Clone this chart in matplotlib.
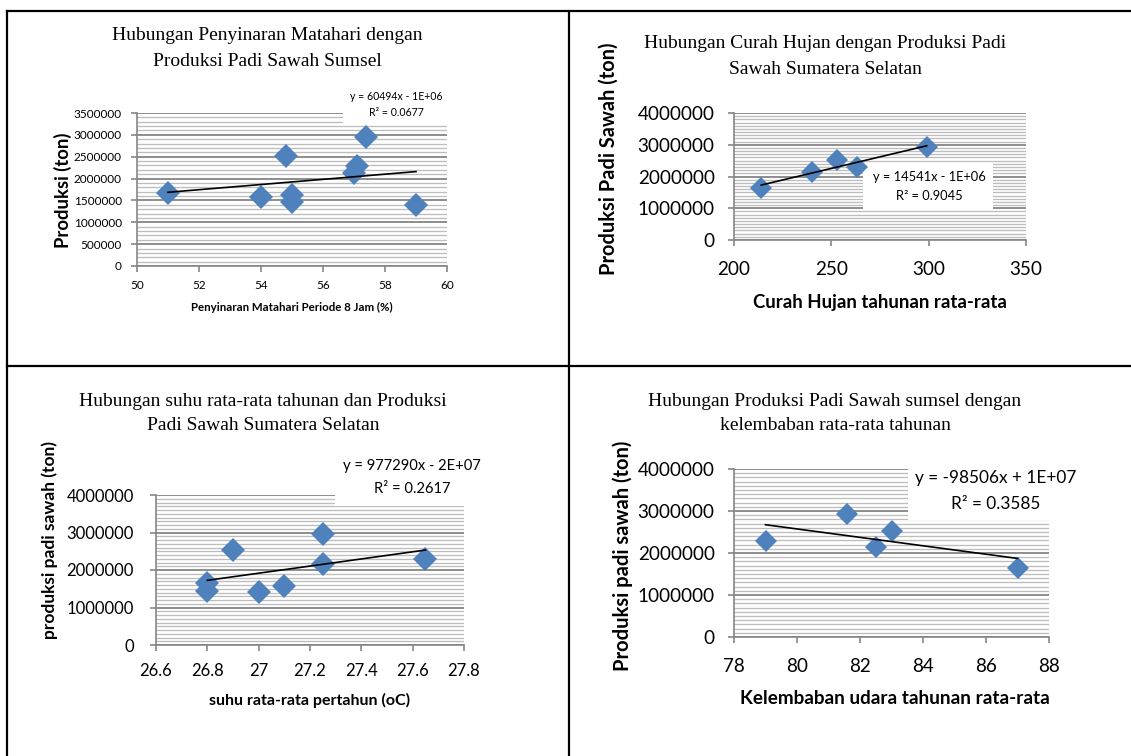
import numpy as np
import matplotlib
matplotlib.use("Agg")
import matplotlib.pyplot as plt
from matplotlib.patches import Rectangle
from matplotlib.lines import Line2D
from matplotlib.ticker import MultipleLocator, FuncFormatter

W, H, DPI = 1131, 756, 100

# ---------------- data ----------------
sun_x = [51.0, 54.0, 54.8, 55.0, 55.0, 57.0, 57.1, 57.4, 59.0]
sun_y = [1670000, 1580000, 2520000, 1620000, 1460000, 2130000, 2290000, 2950000, 1400000]

rain_x = [214, 240, 253, 263, 299]
rain_y = [1650000, 2140000, 2520000, 2300000, 2940000]

temp_x = [26.8, 26.8, 26.9, 27.0, 27.1, 27.25, 27.25, 27.65]
temp_y = [1660000, 1440000, 2540000, 1410000, 1570000, 2960000, 2160000, 2290000]

hum_x = [79.0, 81.6, 82.5, 83.0, 87.0]
hum_y = [2290000, 2940000, 2140000, 2530000, 1650000]

titles = [
    ["Hubungan Penyinaran Matahari dengan", "Produksi Padi Sawah Sumsel"],
    ["Hubungan Curah Hujan dengan Produksi Padi", "Sawah Sumatera Selatan"],
    ["Hubungan suhu rata-rata tahunan dan Produksi", "Padi Sawah Sumatera Selatan"],
    ["Hubungan Produksi Padi Sawah sumsel dengan", "kelembaban rata-rata tahunan"],
]
ylabels = ["Produksi (ton)", "Produksi Padi Sawah (ton)",
           "produksi padi sawah (ton)", "Produksi padi sawah (ton)"]
xlabels = ["Penyinaran Matahari Periode 8 Jam (%)", "Curah Hujan tahunan rata-rata",
           "suhu rata-rata pertahun (oC)", "Kelembaban udara tahunan rata-rata"]
equations = [
    ["y = 60494x - 1E+06", "R² = 0.0677"],
    ["y = 14541x - 1E+06", "R² = 0.9045"],
    ["y = 977290x - 2E+07", "R² = 0.2617"],
    ["y = -98506x + 1E+07", "R² = 0.3585"],
]

plt.rcParams["font.family"] = ["Lato", "DejaVu Sans"]
fig = plt.figure(figsize=(W / DPI, H / DPI), dpi=DPI)
fig.patch.set_facecolor("white")

MARKER = "#4F81BD"
AXC = "#868686"


def fx(x):
    return x / W


def fy(y):
    return 1 - y / H


def make_axes(box, xlim, xstep, ylim, ystep, yminor, ticksize, xpad, ypad):
    x0, y0, x1, y1 = box
    ax = fig.add_axes([fx(x0), fy(y1), (x1 - x0) / W, (y1 - y0) / H])
    ax.set_xlim(*xlim)
    ax.set_ylim(*ylim)
    ax.xaxis.set_major_locator(MultipleLocator(xstep))
    ax.yaxis.set_major_locator(MultipleLocator(ystep))
    ax.yaxis.set_minor_locator(MultipleLocator(yminor))
    ax.xaxis.set_major_formatter(FuncFormatter(lambda v, p: "%g" % round(v, 6)))
    ax.yaxis.set_major_formatter(FuncFormatter(lambda v, p: "%d" % round(v)))
    ax.set_axisbelow(True)
    ax.grid(axis="y", which="major", color="#858585", lw=1.3)
    ax.grid(axis="y", which="minor", color="#bdbdbd", lw=0.95)
    ax.grid(axis="x", visible=False)
    for s in ("top", "right"):
        ax.spines[s].set_visible(False)
    for s in ("left", "bottom"):
        ax.spines[s].set_color(AXC)
        ax.spines[s].set_linewidth(1.2)
    ax.tick_params(which="major", direction="out", length=4, width=1.2, color=AXC,
                   labelsize=ticksize, labelcolor="black")
    ax.tick_params(axis="x", pad=xpad)
    ax.tick_params(axis="y", pad=ypad)
    ax.tick_params(which="minor", length=0)
    ax.patch.set_alpha(0)
    return ax


def scatter_trend(ax, xs, ys, ms):
    xs = np.asarray(xs, float)
    ys = np.asarray(ys, float)
    k, b = np.polyfit(xs, ys, 1)
    xl = np.array([xs.min(), xs.max()])
    ax.plot(xs, ys, linestyle="none", marker="D", ms=ms, color=MARKER,
            markeredgewidth=0, zorder=3, clip_on=False)
    ax.plot(xl, k * xl + b, color="black", lw=1.2, zorder=4)


def white_box(ax, x0, y0, x1, y1):
    ax.add_patch(Rectangle((fx(x0), fy(y1)), (x1 - x0) / W, (y1 - y0) / H,
                           transform=fig.transFigure, facecolor="white",
                           edgecolor="none", zorder=1.5, clip_on=False))


def title(lines, cx, ys, size):
    for t, y in zip(lines, ys):
        fig.text(fx(cx), fy(y), t, ha="center", va="center", fontsize=size,
                 family=["Liberation Serif", "DejaVu Serif"])


def eq(lines, cx, ys, size):
    for t, y in zip(lines, ys):
        fig.text(fx(cx), fy(y), t, ha="center", va="center", fontsize=size)


def ylab(t, x, y, size):
    fig.text(fx(x), fy(y), t, rotation=90, ha="center", va="center",
             fontsize=size, fontweight="bold")


def xlab(t, x, y, size):
    fig.text(fx(x), fy(y), t, ha="center", va="center",
             fontsize=size, fontweight="bold")


# ---------- panel 1 ----------
ax1 = make_axes((137, 113, 447, 266), (50, 60), 2, (0, 3500000), 500000, 100000, 8.5, 6, 7)
white_box(ax1, 343, 85, 455, 125)
scatter_trend(ax1, sun_x, sun_y, 12.5)
title(titles[0], 267, (35, 61), 14)
eq(equations[0], 396, (97, 113), 7.6)
ylab(ylabels[0], 63, 190, 13.3)
xlab(xlabels[0], 292, 307, 8.3)

# ---------- panel 2 ----------
ax2 = make_axes((734, 113, 1026, 240), (200, 350), 50, (0, 4000000), 1000000, 100000, 13.6, 11, 10)
white_box(ax2, 863, 163, 993, 210)
scatter_trend(ax2, rain_x, rain_y, 11.5)
title(titles[1], 825, (44, 70), 14)
eq(equations[1], 929, (177, 196), 9.3)
ylab(ylabels[1], 609, 159, 14.4)
xlab(xlabels[1], 880, 302, 13.4)

# ---------- panel 3 ----------
ax3 = make_axes((156, 495, 464, 645), (26.6, 27.8), 0.2, (0, 4000000), 1000000, 100000, 12, 9, 12)
white_box(ax3, 335, 455, 470, 506)
scatter_trend(ax3, temp_x, temp_y, 12.5)
title(titles[2], 263, (401, 425), 14)
eq(equations[2], 412, (466, 489), 10.6)
ylab(ylabels[2], 50, 540, 12.5)
xlab(xlabels[2], 310, 700, 11.5)

# ---------- panel 4 ----------
ax4 = make_axes((734, 469, 1049, 637), (78, 88), 2, (0, 4000000), 1000000, 100000, 13.6, 11, 10)
white_box(ax4, 908, 462, 1060, 520)
scatter_trend(ax4, hum_x, hum_y, 11.5)
title(titles[3], 835, (401, 425), 14)
eq(equations[3], 996, (478, 504), 12.4)
ylab(ylabels[3], 623, 556, 14.5)
xlab(xlabels[3], 895, 699, 13.6)

# ---------- table borders ----------
def hline(y, x0, x1, lw=1.6):
    fig.add_artist(Line2D([fx(x0), fx(x1)], [fy(y), fy(y)], transform=fig.transFigure,
                          color="black", lw=lw))


def vline(x, y0, y1, lw=1.6):
    fig.add_artist(Line2D([fx(x), fx(x)], [fy(y0), fy(y1)], transform=fig.transFigure,
                          color="black", lw=lw))


hline(11, 7, 1131)
hline(366, 7, 1131)
vline(7, 11, 756)
vline(569, 11, 756)

fig.savefig("out.png", dpi=DPI, facecolor="white")
